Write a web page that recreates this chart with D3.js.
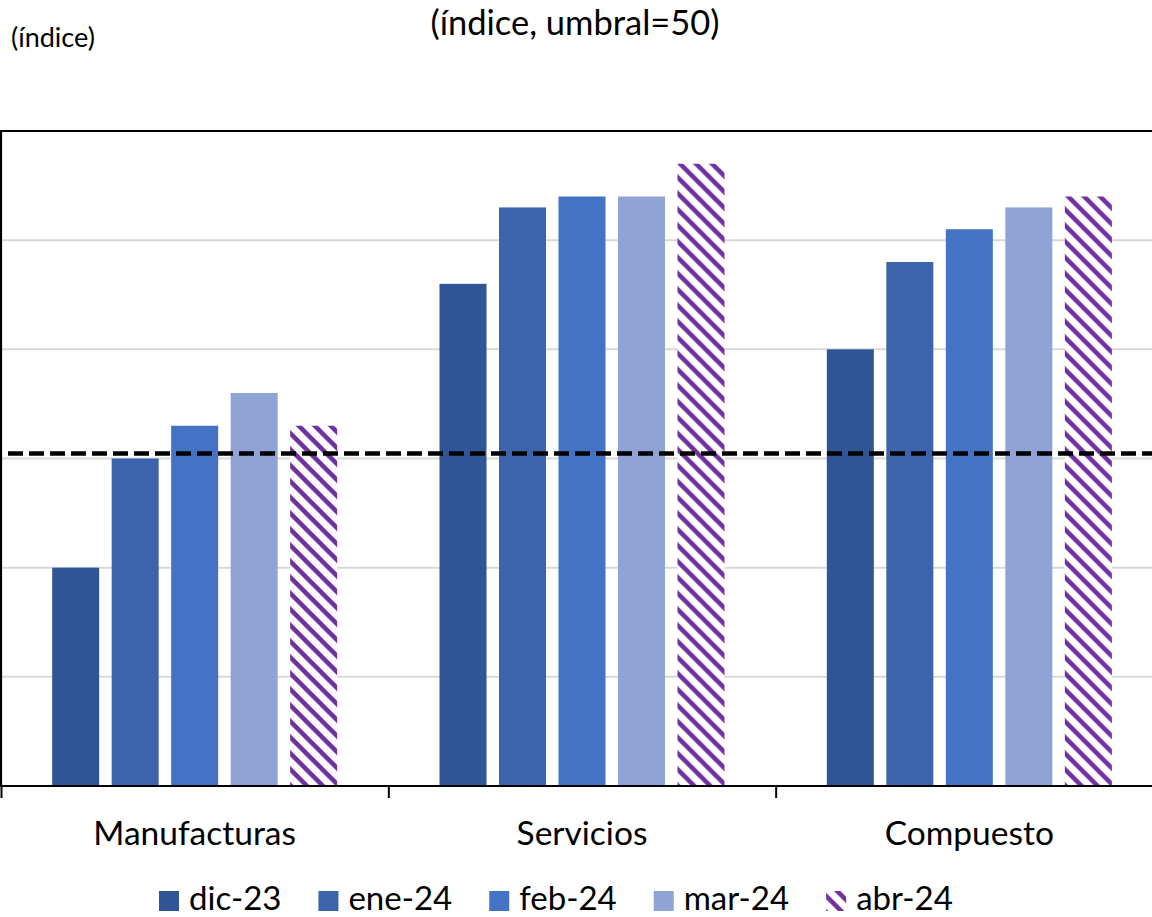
<!DOCTYPE html>
<html>
<head>
<meta charset="utf-8">
<script src="https://cdn.jsdelivr.net/npm/d3@7"></script>
<style>
  html, body { margin: 0; padding: 0; background: #fff; }
  svg { display: block; font-family: Lato, "Open Sans", sans-serif; }
</style>
</head>
<body>
<svg id="chart" width="1152" height="917"></svg>
<script>
// ---- data ----
const categories = ["Manufacturas", "Servicios", "Compuesto"];
const seriesNames = ["dic-23", "ene-24", "feb-24", "mar-24", "abr-24"];
const dic23 = [49.0, 51.6, 51.0];
const ene24 = [50.0, 52.3, 51.8];
const feb24 = [50.3, 52.4, 52.1];
const mar24 = [50.6, 52.4, 52.3];
const abr24 = [50.3, 52.7, 52.4];
const threshold = 50;
const yTicks = [47, 48, 49, 50, 51, 52, 53];
const seriesColors = ["#2F5597", "#3B64AD", "#4472C4", "#8FA3D4", "url(#hatch)"];
const titleText = "(índice, umbral=50)";
const unitText = "(índice)";

const seriesValues = [dic23, ene24, feb24, mar24, abr24];

const svg = d3.select("#chart");
const defs = svg.append("defs");
const pat = defs.append("pattern")
  .attr("id", "hatch").attr("patternUnits", "userSpaceOnUse")
  .attr("width", 16).attr("height", 16);
pat.append("rect").attr("width", 16).attr("height", 16).attr("fill", "#fff");
pat.append("path").attr("d", "M-4,-4 L20,20 M-4,12 L4,20 M12,-4 L20,4")
  .attr("stroke", "#7030A0").attr("stroke-width", 4.5);

const x0 = d3.scaleBand().domain(categories).range([1, 1163]).padding(0);
const x1 = d3.scaleBand().domain(seriesNames).range([0, x0.bandwidth()])
  .paddingInner(0.21).paddingOuter(0.86);
const y = d3.scaleLinear().domain([yTicks[0], yTicks[yTicks.length - 1]]).range([786, 131]);

// gridlines
svg.append("g").selectAll("line").data(yTicks.slice(1, -1)).join("line")
  .attr("x1", 1).attr("x2", 1163)
  .attr("y1", d => y(d)).attr("y2", d => y(d))
  .attr("stroke", "#D9D9D9").attr("stroke-width", 2);

// bars
const groups = svg.append("g").selectAll("g").data(categories).join("g")
  .attr("transform", d => `translate(${x0(d)},0)`);
groups.selectAll("rect")
  .data((c, ci) => seriesNames.map((s, si) => ({ s, si, v: seriesValues[si][ci] })))
  .join("rect")
  .attr("x", d => x1(d.s))
  .attr("width", x1.bandwidth())
  .attr("y", d => y(d.v))
  .attr("height", d => y(yTicks[0]) - y(d.v))
  .attr("fill", d => seriesColors[d.si]);

// threshold dashed line
svg.append("line")
  .attr("x1", 8).attr("x2", 1163)
  .attr("y1", y(threshold) - 5).attr("y2", y(threshold) - 5)
  .attr("stroke", "#000").attr("stroke-width", 4.5)
  .attr("stroke-dasharray", "15,6");

// plot border (left, top)
svg.append("path")
  .attr("d", `M1,${y(yTicks[0])} V${y(yTicks[yTicks.length-1])} H1163`)
  .attr("fill", "none").attr("stroke", "#000").attr("stroke-width", 2.2);

// x axis
const ax = svg.append("g").attr("transform", `translate(0,${y(yTicks[0])})`);
ax.append("line").attr("x1", 0).attr("x2", 1163).attr("stroke", "#000").attr("stroke-width", 2.2);
ax.selectAll("line.tk").data(categories).join("line").attr("class", "tk")
  .attr("x1", d => x0(d) + 0.5).attr("x2", d => x0(d) + 0.5)
  .attr("y1", 0).attr("y2", 12).attr("stroke", "#000").attr("stroke-width", 2);
ax.selectAll("text").data(categories).join("text")
  .attr("x", d => x0(d) + x0.bandwidth() / 2)
  .attr("y", 59)
  .attr("text-anchor", "middle")
  .attr("font-size", 33.5).attr("fill", "#000")
  .text(d => d);

// titles
svg.append("text").attr("x", 575).attr("y", 35).attr("text-anchor", "middle")
  .attr("font-size", 34.5).attr("fill", "#000").text(titleText);
svg.append("text").attr("x", 11).attr("y", 47)
  .attr("font-size", 27).attr("fill", "#000").text(unitText);

// legend
const leg = svg.append("g").attr("transform", "translate(159,0)");
let lx = 0;
seriesNames.forEach((s, i) => {
  const g = leg.append("g").attr("transform", `translate(${lx},0)`);
  g.append("rect").attr("x", 0).attr("y", 891).attr("width", 20).attr("height", 20)
    .attr("fill", seriesColors[i]);
  const t = g.append("text").attr("x", 30).attr("y", 910)
    .attr("font-size", 33).attr("fill", "#000").text(s);
  lx += 30 + t.node().getComputedTextLength() + 37;
});
</script>
</body>
</html>
